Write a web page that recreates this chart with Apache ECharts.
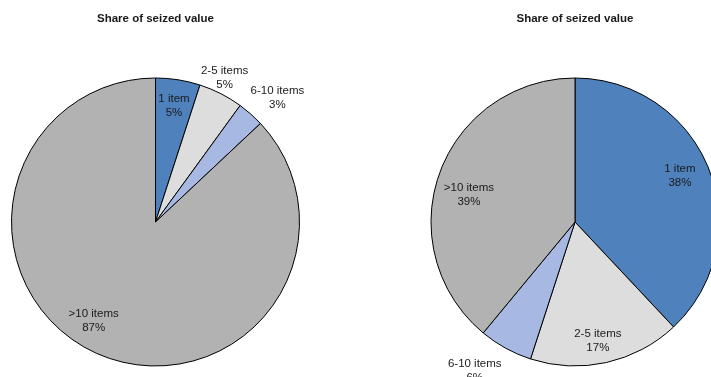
<!DOCTYPE html>
<html>
<head>
<meta charset="utf-8">
<script src="https://cdn.jsdelivr.net/npm/echarts@6/dist/echarts.min.js"></script>
<style>
html,body{margin:0;padding:0;background:#fff;}
#chart{width:711px;height:377px;}
</style>
</head>
<body>
<div id="chart"></div>
<script>
// ---- data ----
const categories = ['1 item', '2-5 items', '6-10 items', '>10 items'];
const leftValues = [5, 5, 3, 87];
const rightValues = [38, 17, 6, 39];
const titles = ['Share of seized value', 'Share of seized value'];

// ---- label placement (fraction of radius, angle tweak in degrees) ----
const leftLabelRadius = [0.82, 1.11, 1.21, 0.81];
const leftLabelAngle = [0, -1.4, 3, 8.6];
const rightLabelRadius = [0.795, 0.84, 1.245, 0.76];
const rightLabelAngle = [-2, 1.7, 5.2, -5.5];

const colors = ['#4F81BD', '#DDDDDD', '#A7B9E3', '#B2B2B2'];
const R = 144;
const centers = [[155.5, 222], [575, 222]];
const labelFont = '"Liberation Sans", Arial, sans-serif';

function makeSeries(values, center, radF, angT) {
  const total = values.reduce((a, b) => a + b, 0);
  const mids = [];
  let acc = 0;
  values.forEach(v => { mids.push((acc + v / 2) / total * 360); acc += v; });
  return {
    type: 'pie',
    center: center,
    radius: R,
    startAngle: 90,
    clockwise: true,
    silent: true,
    animation: false,
    avoidLabelOverlap: false,
    itemStyle: { borderColor: '#000', borderWidth: 1 },
    label: {
      show: true,
      position: 'inside',
      formatter: p => p.name + '\n' + p.value + '%',
      color: '#1a1a1a',
      fontSize: 11.5,
      lineHeight: 14,
      fontFamily: labelFont
    },
    labelLine: { show: false },
    labelLayout: function (p) {
      const i = p.dataIndex;
      const a = (mids[i] + angT[i]) * Math.PI / 180;
      const r = R * radF[i];
      return {
        x: center[0] + r * Math.sin(a),
        y: center[1] - r * Math.cos(a),
        align: 'center',
        verticalAlign: 'middle'
      };
    },
    data: categories.map((c, i) => ({ name: c, value: values[i], itemStyle: { color: colors[i] } }))
  };
}

const chart = echarts.init(document.getElementById('chart'), null, { renderer: 'canvas' });
chart.setOption({
  animation: false,
  graphic: titles.map((t, i) => ({
    type: 'text',
    x: centers[i][0],
    y: 19,
    style: {
      text: t,
      align: 'center',
      verticalAlign: 'middle',
      font: 'bold 11.5px "Liberation Sans", Arial, sans-serif',
      fill: '#1a1a1a'
    }
  })),
  series: [
    makeSeries(leftValues, centers[0], leftLabelRadius, leftLabelAngle),
    makeSeries(rightValues, centers[1], rightLabelRadius, rightLabelAngle)
  ]
});
</script>
</body>
</html>
